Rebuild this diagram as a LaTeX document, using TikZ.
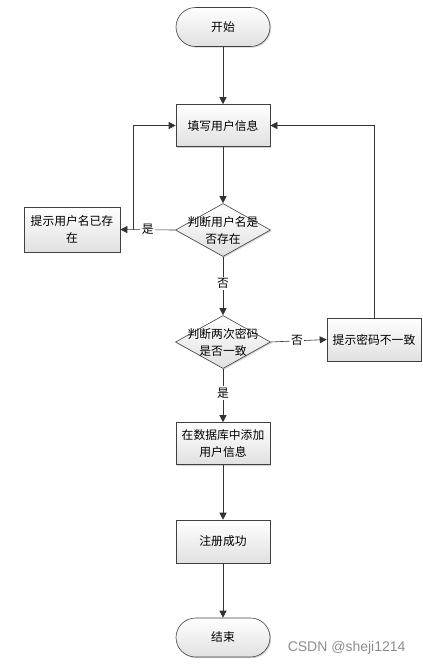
\documentclass[tikz,border=0pt]{standalone}
\usepackage{fontspec}
\setmainfont{Noto Sans CJK SC}
\setsansfont{Liberation Sans}
\usetikzlibrary{arrows.meta,shapes.geometric,shadows,calc}
\begin{document}
\begin{tikzpicture}[x=1pt,y=-1pt,
  every node/.style={font=\fontsize{11.8}{17}\selectfont},
  boxfill/.style={draw=black!75,line width=0.6pt,top color=white,bottom color=black!12,
     drop shadow={shadow xshift=1.2pt,shadow yshift=-1.2pt,opacity=0.35}},
  procbox/.style={boxfill,rectangle,minimum width=94pt,minimum height=42pt,align=center,inner sep=2pt},
  termbox/.style={boxfill,rectangle,rounded corners=19.5pt,minimum width=94pt,minimum height=39pt},
  decbox/.style={boxfill,diamond,minimum width=95pt,minimum height=53pt,inner sep=0pt},
  dectext/.style={align=center,inner sep=0pt},
  conn/.style={draw=black!80,line width=0.6pt,-{Triangle[length=7pt,width=7pt]}},
  lbl/.style={fill=white,inner sep=1.5pt}]
\useasboundingbox (0,0) rectangle (423,665);
\node[termbox] (start) at (223,27) {开始};
\node[procbox] (fill) at (223,125.5) {填写用户信息};
\node[decbox] (d1) at (223,230) {};
\node[dectext] (d1t) at (d1.center) {判断用户名是\\否存在};
\node[procbox,minimum width=96pt,minimum height=45pt] (exist) at (72,229.5) {提示用户名已存\\在};
\node[decbox] (d2) at (223,342) {};
\node[dectext] (d2t) at (d2.center) {判断两次密码\\是否一致};
\node[procbox,minimum width=94pt,minimum height=43pt] (pwd) at (374,339.5) {提示密码不一致};
\node[procbox] (db) at (223,443.5) {在数据库中添加\\用户信息};
\node[procbox,minimum height=43pt] (ok) at (223,541.5) {注册成功};
\node[termbox] (end) at (223,637.5) {结束};

\coordinate (j1) at (133,230);
\coordinate (c1) at (133,125.5);
\coordinate (c2) at (374,125.5);

\draw[conn] (start) -- (fill);
\draw[conn] (fill) -- (d1.north);
\draw[conn] (d1.west) -- node[lbl,pos=0.5] {是} (exist.east);
\draw[conn] (j1) -- (c1) -- (fill.west);
\draw[conn] (d1.south) -- node[lbl,pos=0.46] {否} (d2.north);
\draw[conn] (d2.east) -- node[lbl,pos=0.47] {否} (pwd.west);
\draw[conn] (pwd.north) -- (c2) -- (fill.east);
\draw[conn] (d2.south) -- node[lbl,pos=0.45] {是} (db.north);
\draw[conn] (db) -- (ok);
\draw[conn] (ok) -- (end);

\node[font=\sffamily\fontsize{14}{16}\selectfont,text=black!45,anchor=east] (wm) at (409,648) {CSDN @sheji1214};
\end{tikzpicture}
\end{document}
